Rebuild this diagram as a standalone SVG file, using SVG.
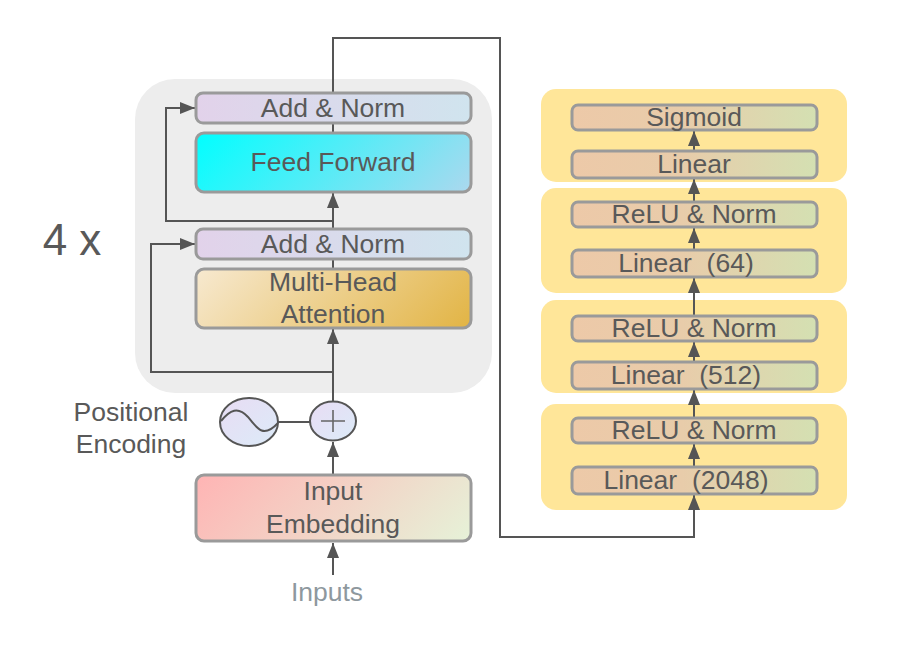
<svg xmlns="http://www.w3.org/2000/svg" width="901" height="668" viewBox="0 0 901 668">
<style>
text{font-family:"Liberation Sans",Arial,sans-serif;fill:#595959;text-anchor:middle;white-space:pre;font-size:26.5px}
.box{stroke:#9a9a9a;stroke-width:3}
.c{fill:none;stroke:#555;stroke-width:2}
.grp{fill:#ffe699}
</style>
<defs>
<marker id="ah" markerUnits="userSpaceOnUse" markerWidth="15" markerHeight="14" viewBox="0 0 15 14" refX="15" refY="7" orient="auto">
<path d="M0,1 L15,7 L0,13 Z" fill="#555"/>
</marker>
<linearGradient id="gAN" x1="0" y1="0" x2="1" y2="0"><stop offset="0" stop-color="#e2d2ea"/><stop offset="1" stop-color="#d0e4ee"/></linearGradient>
<linearGradient id="gFF" gradientUnits="userSpaceOnUse" x1="196" y1="133" x2="363" y2="300"><stop offset="0" stop-color="#00ffff"/><stop offset="1" stop-color="#acd8ee"/></linearGradient>
<linearGradient id="gMHA" gradientUnits="userSpaceOnUse" x1="196" y1="269" x2="363" y2="436"><stop offset="0" stop-color="#f7e9d0"/><stop offset="1" stop-color="#e2b444"/></linearGradient>
<linearGradient id="gIE" gradientUnits="userSpaceOnUse" x1="196" y1="475" x2="366" y2="645"><stop offset="0" stop-color="#ffb4b4"/><stop offset="1" stop-color="#e6f2d8"/></linearGradient>
<linearGradient id="gEl" x1="0" y1="0" x2="1" y2="1"><stop offset="0" stop-color="#e8dcf4"/><stop offset="1" stop-color="#dcebf8"/></linearGradient>
<linearGradient id="gR" x1="0" y1="0" x2="1" y2="0"><stop offset="0" stop-color="#edc9a8"/><stop offset="0.45" stop-color="#e8ccaa"/><stop offset="1" stop-color="#d4e0b2"/></linearGradient>
</defs>

<rect id="encoder-bg" x="135" y="79" width="357" height="314" rx="40" fill="#ededed"/>

<g id="groups">
<rect x="541" y="89" width="306" height="93" rx="15" class="grp"/>
<rect x="541" y="188" width="306" height="105" rx="15" class="grp"/>
<rect x="541" y="300" width="306" height="93" rx="15" class="grp"/>
<rect x="541" y="404" width="306" height="106" rx="15" class="grp"/>
</g>

<g id="connectors">
<line class="c" x1="333" y1="575" x2="333" y2="543" marker-end="url(#ah)"/>
<line class="c" x1="333" y1="475" x2="333" y2="442" marker-end="url(#ah)"/>
<line class="c" x1="333" y1="402" x2="333" y2="329" marker-end="url(#ah)"/>
<polyline class="c" points="333,372 151,372 151,244 195,244" marker-end="url(#ah)"/>
<line class="c" x1="333" y1="259" x2="333" y2="269" stroke="#888"/>
<line class="c" x1="333" y1="229" x2="333" y2="193" marker-end="url(#ah)"/>
<polyline class="c" points="333,221 166,221 166,108 195,108" marker-end="url(#ah)"/>
<line class="c" x1="333" y1="123" x2="333" y2="133" stroke="#888"/>
<polyline class="c" points="333,93 333,38 500,38 500,537 694,537 694,495" marker-end="url(#ah)"/>
<line class="c" x1="694" y1="467" x2="694" y2="444" marker-end="url(#ah)"/>
<line class="c" x1="694" y1="418" x2="694" y2="390" marker-end="url(#ah)"/>
<line class="c" x1="694" y1="362" x2="694" y2="342" marker-end="url(#ah)"/>
<line class="c" x1="694" y1="316" x2="694" y2="278" marker-end="url(#ah)"/>
<line class="c" x1="694" y1="250" x2="694" y2="228" marker-end="url(#ah)"/>
<line class="c" x1="694" y1="202" x2="694" y2="179" marker-end="url(#ah)"/>
<line class="c" x1="694" y1="151" x2="694" y2="131" marker-end="url(#ah)"/>
<line class="c" x1="278" y1="422" x2="310" y2="422"/>
</g>

<g id="add-norm-2">
<rect class="box" x="196" y="93" width="275" height="30" rx="7" fill="url(#gAN)"/>
<text x="333" y="117">Add &amp; Norm</text>
</g>
<g id="feed-forward">
<rect class="box" x="196" y="133" width="275" height="59" rx="8" fill="url(#gFF)"/>
<text x="333" y="171">Feed Forward</text>
</g>
<g id="add-norm-1">
<rect class="box" x="196" y="229" width="275" height="30" rx="7" fill="url(#gAN)"/>
<text x="333" y="253">Add &amp; Norm</text>
</g>
<g id="multi-head-attention">
<rect class="box" x="196" y="269" width="275" height="59" rx="8" fill="url(#gMHA)"/>
<text x="333" y="291">Multi-Head</text>
<text x="333" y="323">Attention</text>
</g>
<g id="four-x">
<text x="72" y="255" font-size="44" style="font-size:44px">4 x</text>
</g>
<g id="positional-encoding">
<text x="131" y="421">Positional</text>
<text x="131" y="453">Encoding</text>
<ellipse cx="249" cy="422" rx="29" ry="24" fill="url(#gEl)" stroke="#555" stroke-width="2"/>
<path d="M221,421 C230,410 238,406 248,417 C258,430 264,438 278,423" fill="none" stroke="#555" stroke-width="2"/>
</g>
<g id="add">
<ellipse cx="333" cy="421" rx="23" ry="19.5" fill="url(#gEl)" stroke="#555" stroke-width="2"/>
<path d="M321,421 H345 M333,410 V432" stroke="#666" stroke-width="1.6" fill="none"/>
</g>
<g id="input-embedding">
<rect class="box" x="196" y="475" width="275" height="66" rx="8" fill="url(#gIE)"/>
<text x="333" y="500">Input</text>
<text x="333" y="533">Embedding</text>
</g>
<g id="inputs">
<text x="327" y="601" style="fill:#8e989e">Inputs</text>
</g>

<g id="sigmoid">
<rect class="box" x="572" y="105" width="245" height="25" rx="6" fill="url(#gR)"/>
<text x="694" y="126">Sigmoid</text>
</g>
<g id="linear-out">
<rect class="box" x="572" y="151" width="245" height="27" rx="6" fill="url(#gR)"/>
<text x="694" y="173">Linear</text>
</g>
<g id="relu-norm-3">
<rect class="box" x="572" y="202" width="245" height="25" rx="6" fill="url(#gR)"/>
<text x="694" y="223">ReLU &amp; Norm</text>
</g>
<g id="linear-64">
<rect class="box" x="572" y="250" width="245" height="27" rx="6" fill="url(#gR)"/>
<text x="686" y="272">Linear  (64)</text>
</g>
<g id="relu-norm-2">
<rect class="box" x="572" y="316" width="245" height="25" rx="6" fill="url(#gR)"/>
<text x="694" y="337">ReLU &amp; Norm</text>
</g>
<g id="linear-512">
<rect class="box" x="572" y="362" width="245" height="27" rx="6" fill="url(#gR)"/>
<text x="686" y="384">Linear  (512)</text>
</g>
<g id="relu-norm-1">
<rect class="box" x="572" y="418" width="245" height="25" rx="6" fill="url(#gR)"/>
<text x="694" y="439">ReLU &amp; Norm</text>
</g>
<g id="linear-2048">
<rect class="box" x="572" y="467" width="245" height="27" rx="6" fill="url(#gR)"/>
<text x="686" y="489">Linear  (2048)</text>
</g>
</svg>
